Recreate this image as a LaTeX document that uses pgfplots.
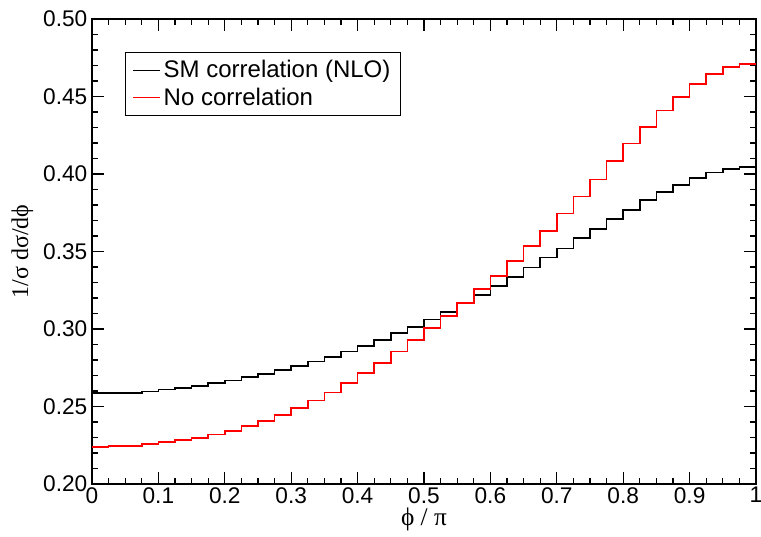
\documentclass[border=0pt]{standalone}
\usepackage{fontspec}
\setmainfont{Liberation Sans}
\newfontfamily\seriffont{Liberation Serif}
\usepackage{pgfplots}
\usepackage{pgfplotstable}
\pgfplotsset{compat=1.18}

\pgfplotstableread{
x y
0.000 0.2585
0.025 0.2586
0.050 0.2589
0.075 0.2596
0.100 0.2609
0.125 0.2619
0.150 0.2634
0.175 0.2650
0.200 0.2667
0.225 0.2690
0.250 0.2710
0.275 0.2735
0.300 0.2763
0.325 0.2791
0.350 0.2821
0.375 0.2854
0.400 0.2892
0.425 0.2929
0.450 0.2972
0.475 0.3015
0.500 0.3062
0.525 0.3110
0.550 0.3166
0.575 0.3219
0.600 0.3277
0.625 0.3335
0.650 0.3396
0.675 0.3461
0.700 0.3520
0.725 0.3585
0.750 0.3646
0.775 0.3710
0.800 0.3770
0.825 0.3830
0.850 0.3882
0.875 0.3931
0.900 0.3976
0.925 0.4009
0.950 0.4032
0.975 0.4047
1.000 0.4047
}\smdata

\pgfplotstableread{
x y
0.000 0.2241
0.025 0.2243
0.050 0.2246
0.075 0.2256
0.100 0.2271
0.125 0.2284
0.150 0.2299
0.175 0.2320
0.200 0.2344
0.225 0.2374
0.250 0.2408
0.275 0.2447
0.300 0.2488
0.325 0.2538
0.350 0.2590
0.375 0.2650
0.400 0.2714
0.425 0.2781
0.450 0.2854
0.475 0.2929
0.500 0.3005
0.525 0.3084
0.550 0.3170
0.575 0.3256
0.600 0.3342
0.625 0.3439
0.650 0.3535
0.675 0.3634
0.700 0.3746
0.725 0.3854
0.750 0.3965
0.775 0.4082
0.800 0.4196
0.825 0.4305
0.850 0.4409
0.875 0.4499
0.900 0.4583
0.925 0.4645
0.950 0.4690
0.975 0.4710
1.000 0.4710
}\nocorr

\begin{document}
\begin{tikzpicture}
\useasboundingbox (-69pt,-39pt) rectangle (501.75pt,363pt);
\begin{axis}[
  scale only axis,
  width=498pt, height=348.75pt,
  xmin=0, xmax=1, ymin=0.2, ymax=0.5,
  xtick={0,0.1,0.2,0.3,0.4,0.5,0.6,0.7,0.8,0.9,1},
  xticklabels={0,0.1,0.2,0.3,0.4,0.5,0.6,0.7,0.8,0.9,1},
  ytick={0.2,0.25,0.3,0.35,0.4,0.45,0.5},
  yticklabels={0.20,0.25,0.30,0.35,0.40,0.45,0.50},
  minor x tick num=3,
  minor y tick num=4,
  tick align=inside,
  major tick length=9pt,
  minor tick length=4.5pt,
  every tick/.style={black, line width=0.8pt},
  axis line style={line width=1.2pt},
  tick label style={font=\fontsize{17}{17}\selectfont},
  /pgf/number format/assume math mode=true,
  xticklabel style={yshift=1pt},
  xlabel={\seriffont ϕ / π},
  ylabel={\seriffont 1/σ dσ/dϕ},
  xlabel style={font=\fontsize{19}{19}\selectfont, at={(axis description cs:0.5,-0.077)}, anchor=center},
  ylabel style={font=\fontsize{18}{18}\selectfont, at={(axis description cs:-0.105,0.5)}, anchor=center, rotate=0},
  legend style={at={(axis description cs:0.05,0.929)}, anchor=north west,
    draw=black, line width=0.8pt, font=\fontsize{18}{21}\selectfont,
    inner xsep=5pt, inner ysep=3.5pt, row sep=1pt,
    nodes={inner sep=2.5pt}},
  legend cell align=left,
  legend image code/.code={\draw[#1, line width=1pt] (0pt,0pt) -- (20pt,0pt);},
]
\addplot[const plot, black, line width=1.3pt] table[x=x,y=y] {\smdata};
\addlegendentry{SM correlation (NLO)}
\addplot[const plot, red, line width=1.3pt] table[x=x,y=y] {\nocorr};
\addlegendentry{No correlation}
\end{axis}
\end{tikzpicture}
\end{document}
